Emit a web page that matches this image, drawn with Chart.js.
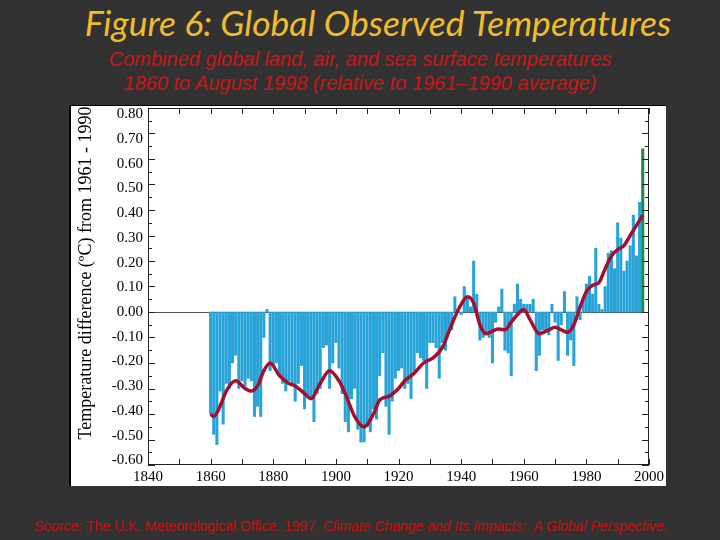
<!DOCTYPE html>
<html>
<head>
<meta charset="utf-8">
<script src="https://cdn.jsdelivr.net/npm/chart.js@4.4.1/dist/chart.umd.min.js"></script>
<style>
  html, body { margin:0; padding:0; }
  body { width:720px; height:540px; background:#323232; position:relative; overflow:hidden; }
  #title { position:absolute; left:0; top:1px; width:756px; text-align:center;
    font-family: Lato, "Open Sans", sans-serif; font-style:italic; font-size:35.5px; color:#f0bc2c; white-space:nowrap; }
  .sub { position:absolute; left:0; width:720px; text-align:center;
    font-family:"Liberation Sans", Arial, sans-serif; font-style:italic; font-size:20px; color:#cc1515; white-space:nowrap; }
  #sub1 { top:48px; }
  #sub2 { top:72px; }
  #panel { position:absolute; left:69px; top:105px; width:597px; height:381px; background:#fff;
    border-left:2px solid #000; border-top:1px solid #000; box-sizing:border-box; }
  #wrap { position:absolute; left:69px; top:94px; width:600px; height:396px; }
  #source { position:absolute; left:34px; top:518px; font-family:"Liberation Sans", Arial, sans-serif;
    font-size:14px; color:#c41010; white-space:nowrap; }
</style>
</head>
<body>
<div id="title">Figure 6: Global Observed Temperatures</div>
<div class="sub" id="sub1">Combined global land, air, and sea surface temperatures</div>
<div class="sub" id="sub2">1860 to August 1998 (relative to 1961–1990 average)</div>
<div id="panel"></div>
<div id="wrap"><canvas id="c" width="600" height="396"></canvas></div>
<div id="source"><i>Source:</i> The U.K. Meteorological Office. 1997. <i>Climate Change and Its Impacts:&nbsp; A Global Perspective.</i></div>
<script>
// ---- data ----
const firstYear = 1860;
const anomalies = [
-0.40,-0.48,-0.52,-0.31,-0.44,-0.28,-0.30,-0.20,-0.17,-0.30,
-0.27,-0.29,-0.26,-0.27,-0.41,-0.37,-0.41,-0.10, 0.01,-0.23,
-0.21,-0.20,-0.25,-0.28,-0.31,-0.27,-0.29,-0.35,-0.28,-0.21,
-0.38,-0.33,-0.34,-0.43,-0.32,-0.30,-0.14,-0.13,-0.30,-0.20,
-0.12,-0.22,-0.32,-0.43,-0.47,-0.34,-0.30,-0.46,-0.51,-0.51,
-0.45,-0.47,-0.38,-0.42,-0.25,-0.16,-0.37,-0.48,-0.35,-0.26,
-0.23,-0.22,-0.30,-0.28,-0.34,-0.23,-0.16,-0.18,-0.19,-0.30,
-0.12,-0.12,-0.14,-0.26,-0.12,-0.15,-0.08,-0.07, 0.06, 0.01,
-0.01, 0.10, 0.06, 0.02, 0.20, 0.07,-0.11,-0.10,-0.09,-0.10,
-0.20,-0.04, 0.02, 0.09,-0.15,-0.16,-0.25, 0.03, 0.11, 0.05,
 0.03, 0.03, 0.03, 0.05,-0.23,-0.17,-0.07,-0.08,-0.09, 0.03,
-0.04,-0.19,-0.05, 0.08,-0.17,-0.11,-0.21, 0.06,-0.03, 0.05,
 0.11, 0.14, 0.07, 0.25, 0.03, 0.01, 0.10, 0.23, 0.24, 0.17,
 0.35, 0.29, 0.16, 0.20, 0.26, 0.38, 0.22, 0.43, 0.64
];
const highlightYear = 1998;
const smoothYears = [1860,1861,1863,1865,1868,1871,1873,1875,1877,1879,1882,1885,1887,1890,1892,1895,1898,1901,1903,1906,1909,1912,1914,1917,1920,1922,1925,1928,1931,1934,1936,1938,1940,1942,1944,1946,1948,1950,1952,1954,1956,1958,1960,1962,1965,1968,1970,1972,1974,1976,1978,1980,1982,1984,1986,1988,1990,1992,1994,1996,1998];
const smoothValues = [-0.40,-0.41,-0.37,-0.31,-0.27,-0.30,-0.31,-0.29,-0.23,-0.20,-0.25,-0.28,-0.29,-0.32,-0.34,-0.28,-0.23,-0.27,-0.32,-0.41,-0.45,-0.40,-0.345,-0.33,-0.30,-0.27,-0.24,-0.20,-0.18,-0.14,-0.08,-0.02,0.03,0.06,0.035,-0.05,-0.085,-0.075,-0.067,-0.07,-0.04,-0.01,0.01,-0.03,-0.085,-0.07,-0.06,-0.07,-0.08,-0.05,0.02,0.08,0.105,0.115,0.17,0.22,0.245,0.26,0.30,0.34,0.38];
const xMin = 1840, xMax = 2000, xStep = 20;
const yMin = -0.6, yMax = 0.8, yStep = 0.1;
// the printed tick labels in the original sit slightly closer to zero than their tick marks
const labelMin = -0.619, labelMax = 0.826;
const yTitle = 'Temperature difference (ºC) from 1961 - 1990';

const barPoints = anomalies.map((v, i) => ({ x: firstYear + i, y: v }));
const linePoints = smoothYears.map((yr, i) => ({ x: yr, y: smoothValues[i] }));

const frameTicks = {
  id: 'frameTicks',
  beforeDatasetsDraw(chart) {
    const { ctx, chartArea: a, scales: { y } } = chart;
    const y0 = y.getPixelForValue(0);
    ctx.save();
    ctx.strokeStyle = '#555';
    ctx.lineWidth = 1;
    ctx.beginPath(); ctx.moveTo(a.left, Math.round(y0) + 0.5); ctx.lineTo(a.right, Math.round(y0) + 0.5); ctx.stroke();
    ctx.restore();
  },
  afterDatasetsDraw(chart) {
    const { ctx, chartArea: a, scales: { x, y } } = chart;
    ctx.save();
    ctx.strokeStyle = '#222';
    ctx.lineWidth = 1;
    ctx.strokeRect(a.left + 0.5, a.top + 0.5, a.right - a.left - 1, a.bottom - a.top - 1);
    ctx.beginPath();
    for (let k = 0; k <= 28; k++) {
      const v = yMin + k * 0.05;
      const py = Math.round(y.getPixelForValue(v)) + 0.5;
      const len = (k % 2 === 0) ? 7 : 4;
      ctx.moveTo(a.left, py); ctx.lineTo(a.left + len, py);
      ctx.moveTo(a.right, py); ctx.lineTo(a.right - len, py);
    }
    for (let yr = xMin; yr <= xMax; yr += 10) {
      const px = Math.round(x.getPixelForValue(yr)) + 0.5;
      ctx.moveTo(px, a.bottom); ctx.lineTo(px, a.bottom - 6);
      ctx.moveTo(px, a.top); ctx.lineTo(px, a.top + 6);
    }
    ctx.stroke();
    // rotated y-axis title
    ctx.translate(17, 179);
    ctx.rotate(-Math.PI / 2);
    ctx.fillStyle = '#000';
    ctx.font = '18px "Liberation Serif", "DejaVu Serif", serif';
    ctx.textAlign = 'center';
    ctx.textBaseline = 'middle';
    ctx.fillText(yTitle, 0, 0);
    ctx.restore();
  }
};

const serif = '"Liberation Serif", "DejaVu Serif", serif';

new Chart(document.getElementById('c'), {
  data: {
    datasets: [
      {
        type: 'line',
        label: 'Smoothed',
        data: linePoints,
        borderColor: '#a30f2d',
        borderWidth: 3.5,
        pointRadius: 0,
        cubicInterpolationMode: 'monotone',
        fill: false,
        yAxisID: 'y',
        order: 0
      },
      {
        type: 'bar',
        label: 'Annual',
        data: barPoints,
        backgroundColor: ctx => (ctx.raw && ctx.raw.x === highlightYear) ? '#1d8a3c' : '#27a3d8',
        borderWidth: 0,
        barThickness: 2.4,
        yAxisID: 'y',
        order: 1
      }
    ]
  },
  options: {
    responsive: false,
    animation: false,
    devicePixelRatio: 1,
    layout: { padding: { top: 2, right: 20, left: 0, bottom: 0 } },
    plugins: { legend: { display: false }, tooltip: { enabled: false } },
    scales: {
      x: {
        type: 'linear', min: xMin, max: xMax, offset: false,
        grid: { display: false, drawTicks: false },
        border: { display: false },
        ticks: { stepSize: xStep, color: '#000', padding: 3,
          font: { family: serif, size: 15 },
          callback: v => String(v), maxRotation: 0 },
        afterFit(s) { s.height = 25; }
      },
      y: {
        type: 'linear', min: yMin, max: yMax, display: false
      },
      yLabels: {
        type: 'linear', position: 'left', min: labelMin, max: labelMax,
        grid: { display: false, drawTicks: false },
        border: { display: false },
        ticks: { stepSize: yStep, includeBounds: false, color: '#000', padding: 5,
          font: { family: serif, size: 15 },
          callback: v => (Math.abs(v) < 1e-9 ? 0 : v).toFixed(2) },
        afterBuildTicks(s) {
          s.ticks = s.ticks.filter(t => t.value >= yMin - 1e-9 && t.value <= yMax + 1e-9 &&
            Math.abs(t.value * 10 - Math.round(t.value * 10)) < 1e-6);
        },
        afterFit(s) { s.width = 79; }
      }
    }
  },
  plugins: [frameTicks]
});
</script>
</body>
</html>
